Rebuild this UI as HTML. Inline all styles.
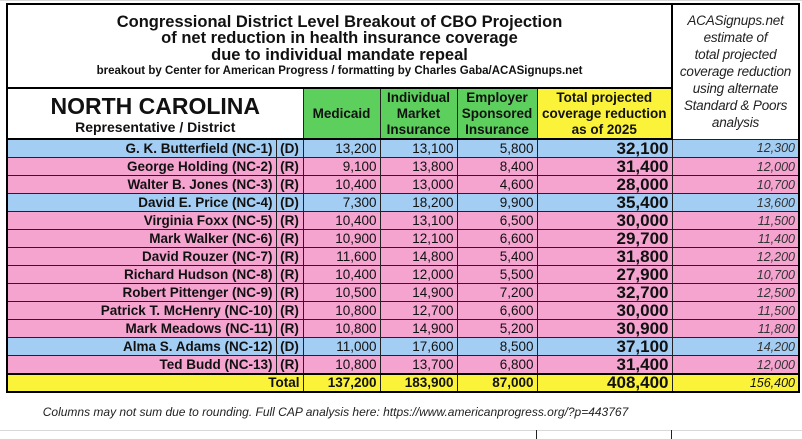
<!DOCTYPE html>
<html><head><meta charset="utf-8"><style>
body{margin:0;width:802px;height:439px;background:#fff;position:relative;overflow:hidden;font-family:"Liberation Sans",Arial,sans-serif;}
.g{position:absolute;background:#d8d8d8;}
table{position:absolute;left:6px;top:3px;border-collapse:collapse;table-layout:fixed;border:2.5px solid #000;}
td{border:1px solid #222;padding:0 3px;overflow:hidden;white-space:nowrap;font-size:13.5px;color:#111;}
tr.r td{height:17px;line-height:16px;text-align:right;}
tr.b td{background:#a3cdf3;}
tr.p td{background:#f5a3cf;}
td.n{font-weight:bold;font-size:13.5px;}
td.pt{font-weight:bold;text-align:center!important;}
td.t{font-weight:bold;font-size:17px;}
td.a{font-style:italic;font-size:12.5px;color:#333;}
tr.tot td{background:#fbf23a;font-weight:bold;height:16px;line-height:16px;text-align:right;border-top:2.5px solid #000;}
.hd td{text-align:center;font-weight:bold;font-size:13.5px;line-height:16px;}
</style></head><body>
<div class="g" style="left:0;top:0;width:802px;height:1px"></div>
<div class="g" style="left:0;top:430px;width:802px;height:1px"></div>
<div class="g" style="left:536px;top:430px;width:1px;height:9px;background:#222"></div>
<div class="g" style="left:671px;top:430px;width:1px;height:9px;background:#222"></div>
<table>
<colgroup><col style="width:269px"><col style="width:27px"><col style="width:77px"><col style="width:77px"><col style="width:80px"><col style="width:135px"><col style="width:127px"></colgroup>
<tr><td colspan="6" style="height:81px;text-align:center;font-weight:bold;line-height:16.5px;border-bottom:2.5px solid #000;padding-top:1px">
<div style="font-size:16.5px">Congressional District Level Breakout of CBO Projection</div>
<div style="font-size:16.5px">of net reduction in health insurance coverage</div>
<div style="font-size:16.5px">due to individual mandate repeal</div>
<div style="font-size:11.5px">breakout by Center for American Progress / formatting by Charles Gaba/ACASignups.net</div>
</td>
<td rowspan="2" style="text-align:center;font-style:italic;font-size:13.5px;line-height:17px;white-space:nowrap;padding:0;border-left:2.5px solid #000;color:#222;letter-spacing:-0.2px">ACASignups.net<br>estimate of<br>total projected<br>coverage reduction<br>using alternate<br>Standard &amp; Poors<br>analysis</td></tr>
<tr class="hd"><td colspan="2" style="height:49px;border-bottom:2.5px solid #000"><div style="font-size:23px;line-height:26px">NORTH CAROLINA</div><div style="font-size:14px">Representative / District</div></td>
<td style="background:#5dcf5d;border-bottom:2.5px solid #000">Medicaid</td>
<td style="background:#5dcf5d;border-bottom:2.5px solid #000">Individual<br>Market<br>Insurance</td>
<td style="background:#5dcf5d;border-bottom:2.5px solid #000">Employer<br>Sponsored<br>Insurance</td>
<td style="background:#fbf23a;border-bottom:2.5px solid #000">Total projected<br>coverage reduction<br>as of 2025</td></tr>
<tr class="r b"><td class="n">G. K. Butterfield (NC-1)</td><td class="pt">(D)</td><td>13,200</td><td>13,100</td><td>5,800</td><td class="t">32,100</td><td class="a">12,300</td></tr>
<tr class="r p"><td class="n">George Holding (NC-2)</td><td class="pt">(R)</td><td>9,100</td><td>13,800</td><td>8,400</td><td class="t">31,400</td><td class="a">12,000</td></tr>
<tr class="r p"><td class="n">Walter B. Jones (NC-3)</td><td class="pt">(R)</td><td>10,400</td><td>13,000</td><td>4,600</td><td class="t">28,000</td><td class="a">10,700</td></tr>
<tr class="r b"><td class="n">David E. Price (NC-4)</td><td class="pt">(D)</td><td>7,300</td><td>18,200</td><td>9,900</td><td class="t">35,400</td><td class="a">13,600</td></tr>
<tr class="r p"><td class="n">Virginia Foxx (NC-5)</td><td class="pt">(R)</td><td>10,400</td><td>13,100</td><td>6,500</td><td class="t">30,000</td><td class="a">11,500</td></tr>
<tr class="r p"><td class="n">Mark Walker (NC-6)</td><td class="pt">(R)</td><td>10,900</td><td>12,100</td><td>6,600</td><td class="t">29,700</td><td class="a">11,400</td></tr>
<tr class="r p"><td class="n">David Rouzer (NC-7)</td><td class="pt">(R)</td><td>11,600</td><td>14,800</td><td>5,400</td><td class="t">31,800</td><td class="a">12,200</td></tr>
<tr class="r p"><td class="n">Richard Hudson (NC-8)</td><td class="pt">(R)</td><td>10,400</td><td>12,000</td><td>5,500</td><td class="t">27,900</td><td class="a">10,700</td></tr>
<tr class="r p"><td class="n">Robert Pittenger (NC-9)</td><td class="pt">(R)</td><td>10,500</td><td>14,900</td><td>7,200</td><td class="t">32,700</td><td class="a">12,500</td></tr>
<tr class="r p"><td class="n">Patrick T. McHenry (NC-10)</td><td class="pt">(R)</td><td>10,800</td><td>12,700</td><td>6,600</td><td class="t">30,000</td><td class="a">11,500</td></tr>
<tr class="r p"><td class="n">Mark Meadows (NC-11)</td><td class="pt">(R)</td><td>10,800</td><td>14,900</td><td>5,200</td><td class="t">30,900</td><td class="a">11,800</td></tr>
<tr class="r b"><td class="n">Alma S. Adams (NC-12)</td><td class="pt">(D)</td><td>11,000</td><td>17,600</td><td>8,500</td><td class="t">37,100</td><td class="a">14,200</td></tr>
<tr class="r p"><td class="n">Ted Budd (NC-13)</td><td class="pt">(R)</td><td>10,800</td><td>13,700</td><td>6,800</td><td class="t">31,400</td><td class="a">12,000</td></tr>
<tr class="tot"><td colspan="2">Total</td><td>137,200</td><td>183,900</td><td>87,000</td><td style="font-size:17px">408,400</td><td style="font-style:italic;font-weight:normal;font-size:12.5px">156,400</td></tr>
</table>
<div style="position:absolute;left:0;width:671px;top:405px;text-align:center;font-style:italic;font-size:12px;color:#222">Columns may not sum due to rounding. Full CAP analysis here: https://www.americanprogress.org/?p=443767</div>
</body></html>
